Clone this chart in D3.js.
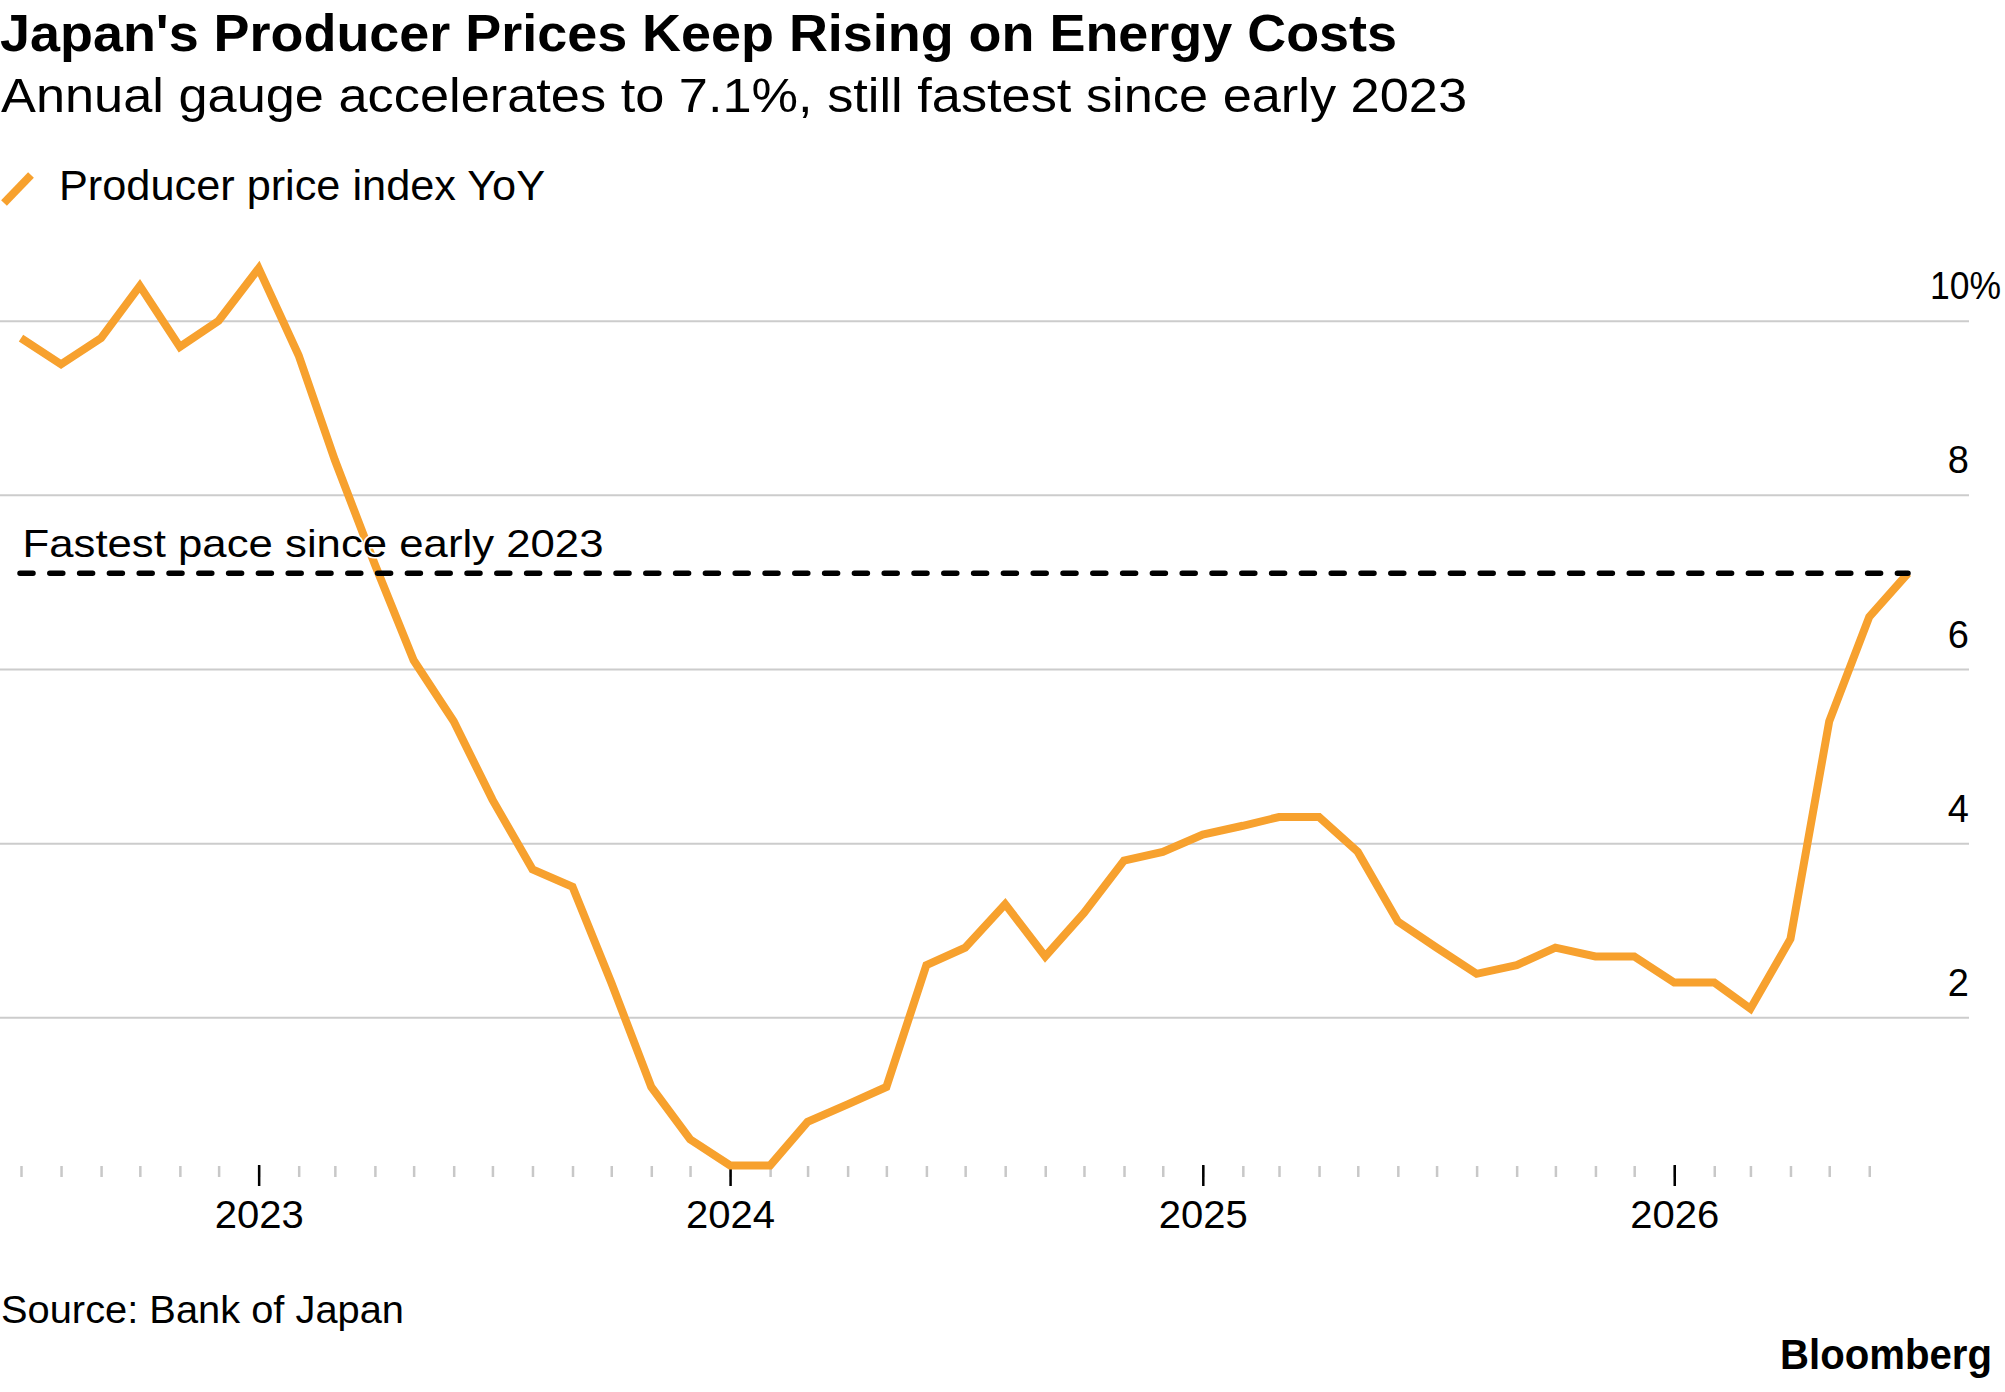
<!DOCTYPE html>
<html>
<head>
<meta charset="utf-8">
<script src="https://cdn.jsdelivr.net/npm/d3@7"></script>
<style>
  html, body { margin: 0; padding: 0; background: #fff; }
  svg { display: block; font-family: "Liberation Sans", Arial, Helvetica, sans-serif; }
</style>
</head>
<body>
<svg id="chart" width="2005" height="1392"></svg>
<script>
// ---- Data ----
const months = [
  "2022-07","2022-08","2022-09","2022-10","2022-11","2022-12",
  "2023-01","2023-02","2023-03","2023-04","2023-05","2023-06","2023-07","2023-08","2023-09","2023-10","2023-11","2023-12",
  "2024-01","2024-02","2024-03","2024-04","2024-05","2024-06","2024-07","2024-08","2024-09","2024-10","2024-11","2024-12",
  "2025-01","2025-02","2025-03","2025-04","2025-05","2025-06","2025-07","2025-08","2025-09","2025-10","2025-11","2025-12",
  "2026-01","2026-02","2026-03","2026-04","2026-05","2026-06","2026-07"
];
const ppiYoY = [
  9.8, 9.5, 9.8, 10.4, 9.7, 10.0,
  10.6, 9.6, 8.4, 7.2, 6.1, 5.4, 4.5, 3.7, 3.5, 2.4, 1.2, 0.6,
  0.3, 0.3, 0.8, 1.0, 1.2, 2.6, 2.8, 3.3, 2.7, 3.2, 3.8, 3.9,
  4.1, 4.2, 4.3, 4.3, 3.9, 3.1, 2.8, 2.5, 2.6, 2.8, 2.7, 2.7,
  2.4, 2.4, 2.1, 2.9, 5.4, 6.6, 7.1
];
const yTicks = [2, 4, 6, 8, 10];
const yearTicks = ["2023", "2024", "2025", "2026"];
const minorTickRange = ["2022-07", "2026-06"];
const referenceLevel = 7.1;
const texts = {
  title: "Japan's Producer Prices Keep Rising on Energy Costs",
  subtitle: "Annual gauge accelerates to 7.1%, still fastest since early 2023",
  legend: "Producer price index YoY",
  annotation: "Fastest pace since early 2023",
  source: "Source: Bank of Japan",
  logo: "Bloomberg"
};

// ---- Setup ----
const parse = d3.timeParse("%Y-%m");
const data = months.map((m, i) => ({ date: parse(m), value: ppiYoY[i] }));
const svg = d3.select("#chart");
const ORANGE = "#F7A12E";

const x = d3.scaleTime()
  .domain([parse(months[0]), parse(months[months.length - 1])])
  .range([21, 1908]);
const y = d3.scaleLinear().domain([0, 10]).range([1191.5, 320.7]);

function fit(sel, w) {
  sel.attr("textLength", w).attr("lengthAdjust", "spacingAndGlyphs");
}

// ---- Titles ----
svg.append("text").attr("x", 0).attr("y", 50.5)
  .attr("font-size", 52.5).attr("font-weight", "bold").attr("fill", "#000")
  .text(texts.title).call(fit, 1397);
svg.append("text").attr("x", 1).attr("y", 111.5)
  .attr("font-size", 48).attr("fill", "#000")
  .text(texts.subtitle).call(fit, 1466);

// ---- Legend ----
svg.append("line").attr("x1", 4).attr("y1", 203).attr("x2", 31).attr("y2", 175)
  .attr("stroke", ORANGE).attr("stroke-width", 8);
svg.append("text").attr("x", 59).attr("y", 200)
  .attr("font-size", 43).attr("fill", "#000")
  .text(texts.legend).call(fit, 486);

// ---- Y grid + labels ----
const yAxis = d3.axisRight(y).tickValues(yTicks).tickSize(1969)
  .tickFormat(d => d);
const gy = svg.append("g").attr("class", "y-axis").call(yAxis);
gy.select(".domain").remove();
gy.selectAll(".tick line").attr("stroke", "#cccccc").attr("stroke-width", 2);
gy.selectAll(".tick text")
  .attr("x", 1969).attr("dy", -22).attr("text-anchor", "end")
  .attr("font-size", 38).attr("fill", "#000")
  .attr("font-family", "Liberation Sans, Arial, sans-serif")
  .each(function(d) {
    if (d === 10) {
      d3.select(this).attr("text-anchor", "start").attr("x", 1969 - 39)
        .text("10%").attr("textLength", 71).attr("lengthAdjust", "spacingAndGlyphs");
    }
  });

// ---- X axis ticks ----
const minorTicks = d3.timeMonth.range(parse(minorTickRange[0]), d3.timeMonth.offset(parse(minorTickRange[1]), 1));
const gMinor = svg.append("g").attr("transform", "translate(0,1166)")
  .call(d3.axisBottom(x).tickValues(minorTicks).tickSize(11).tickFormat(""));
gMinor.select(".domain").remove();
gMinor.selectAll(".tick line").attr("stroke", "#c8c8c8").attr("stroke-width", 2.5);

const yearDates = yearTicks.map(s => d3.timeParse("%Y")(s));
const gMajor = svg.append("g").attr("transform", "translate(0,1165)")
  .call(d3.axisBottom(x).tickValues(yearDates).tickSize(21).tickFormat(d3.timeFormat("%Y")));
gMajor.select(".domain").remove();
gMajor.selectAll(".tick line").attr("stroke", "#000").attr("stroke-width", 2.5);
gMajor.selectAll(".tick text")
  .attr("y", 62.5).attr("dy", 0).attr("font-size", 39.5).attr("fill", "#000")
  .attr("font-family", "Liberation Sans, Arial, sans-serif")
  .attr("textLength", 89).attr("lengthAdjust", "spacingAndGlyphs");

// ---- Series line ----
const line = d3.line().x(d => x(d.date)).y(d => y(d.value)).curve(d3.curveLinear);
svg.append("path").datum(data)
  .attr("d", line).attr("fill", "none")
  .attr("stroke", ORANGE).attr("stroke-width", 8)
  .attr("stroke-linejoin", "miter").attr("stroke-linecap", "butt");

// ---- Reference dashed line ----
svg.append("line")
  .attr("x1", x(data[0].date) - 1).attr("x2", x(data[data.length - 1].date))
  .attr("y1", y(referenceLevel)).attr("y2", y(referenceLevel))
  .attr("stroke", "#000").attr("stroke-width", 5.5)
  .attr("stroke-linecap", "round").attr("stroke-dasharray", "13,16.8");

svg.append("text").attr("x", 22.5).attr("y", 556.5)
  .attr("font-size", 38.5).attr("fill", "#000")
  .attr("stroke", "#fff").attr("stroke-width", 3).attr("paint-order", "stroke")
  .text(texts.annotation).call(fit, 581);

// ---- Footer ----
svg.append("text").attr("x", 1 ).attr("y", 1322.5)
  .attr("font-size", 38).attr("fill", "#000")
  .text(texts.source).call(fit, 403);
svg.append("text").attr("x", 1780).attr("y", 1369)
  .attr("font-size", 42).attr("font-weight", "bold").attr("fill", "#000")
  .text(texts.logo).call(fit, 212);
</script>
</body>
</html>
